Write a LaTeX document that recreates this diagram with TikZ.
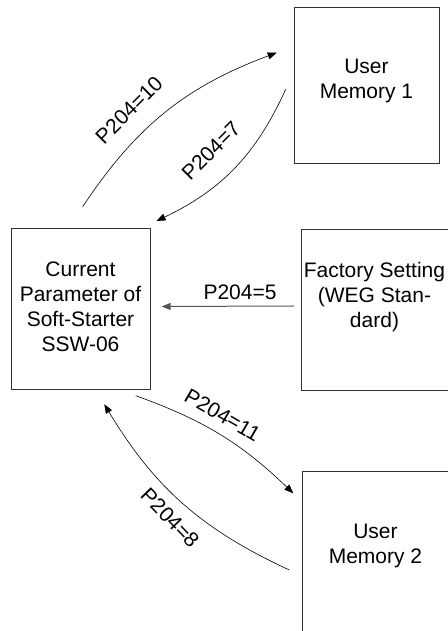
\documentclass[tikz,border=0pt]{standalone}
\usepackage{fontspec}
\setmainfont{Liberation Sans}
\usepackage{xcolor}
\usepackage{tikz}
\usetikzlibrary{arrows.meta,positioning,calc}
\definecolor{edgeK}{HTML}{333333}
\definecolor{lineG}{HTML}{555555}

\begin{document}
\begin{tikzpicture}[x=1pt,y=1pt,
  big/.style={font=\fontsize{21}{25}\selectfont},
  panel/.style={draw=edgeK, line width=0.8pt, inner sep=0pt},
  caption/.style={big, align=center, inner sep=0pt},
  flow/.style={-{Triangle[length=9pt,width=7pt]}, line width=0.6pt, draw=black},
  tag/.style={big, inner sep=0pt},
  ]
\useasboundingbox (0,0) rectangle (447,631);

% === boxes
\node[panel, minimum width=145pt, minimum height=156pt] (mem1) at (366.5,546) {};
\node[panel, minimum width=139pt, minimum height=161pt] (cur)  at (80.5,322.5) {};
\node[panel, minimum width=147pt, minimum height=161pt] (fac)  at (374.5,321.5) {};
\node[panel, minimum width=147pt, minimum height=161pt] (mem2) at (375.5,79) {};

\node[caption] (mem1t) at ([yshift=4.5pt]mem1.center) {User\\Memory 1};
\node[caption] (curt)  at ([yshift=1.3pt]cur.center) {Current\\Parameter of\\Soft-Starter\\SSW-06};
\node[caption] (fact)  at ([yshift=12pt]fac.center) {Factory Setting\\(WEG Stan-\\dard)};
\node[caption] (mem2t) at ([yshift=6.5pt]mem2.center) {User\\Memory 2};

% === free ends of the arrows
\coordinate (p10a) at (82.7,424.3);  \coordinate (p10b) at (276.7,578.3);
\coordinate (p7a)  at (285.7,541.7); \coordinate (p7b)  at (156.5,410);
\coordinate (p5a)  at (294,325);     \coordinate (p5b)  at (161.7,324.5);
\coordinate (p11a) at (135.7,235.3); \coordinate (p11b) at (293.3,137.7);
\coordinate (p8a)  at (289.3,61);    \coordinate (p8b)  at (104.3,226.7);

% === transfers
\draw[flow] (p10a) to[bend left=18] (p10b);
\draw[flow] (p7a) to[bend left=20] (p7b);
\draw[flow, draw=lineG, line width=1pt] (p5a) -- (p5b);
\draw[flow] (p11a) to[bend left=12] (p11b);
\draw[flow] (p8a) to[bend left=17] (p8b);

% === labels
\node[tag, rotate=45]  (l10) at (129,521)    {P204=10};
\node[tag, rotate=45]  (l7)  at (211,480.3)  {P204=7};
\node[tag]             (l5)  at (240,339)    {P204=5};
\node[tag, rotate=-30] (l11) at (222.5,216)  {P204=11};
\node[tag, rotate=-46] (l8)  at (170,113)    {P204=8};

\end{tikzpicture}
\end{document}
